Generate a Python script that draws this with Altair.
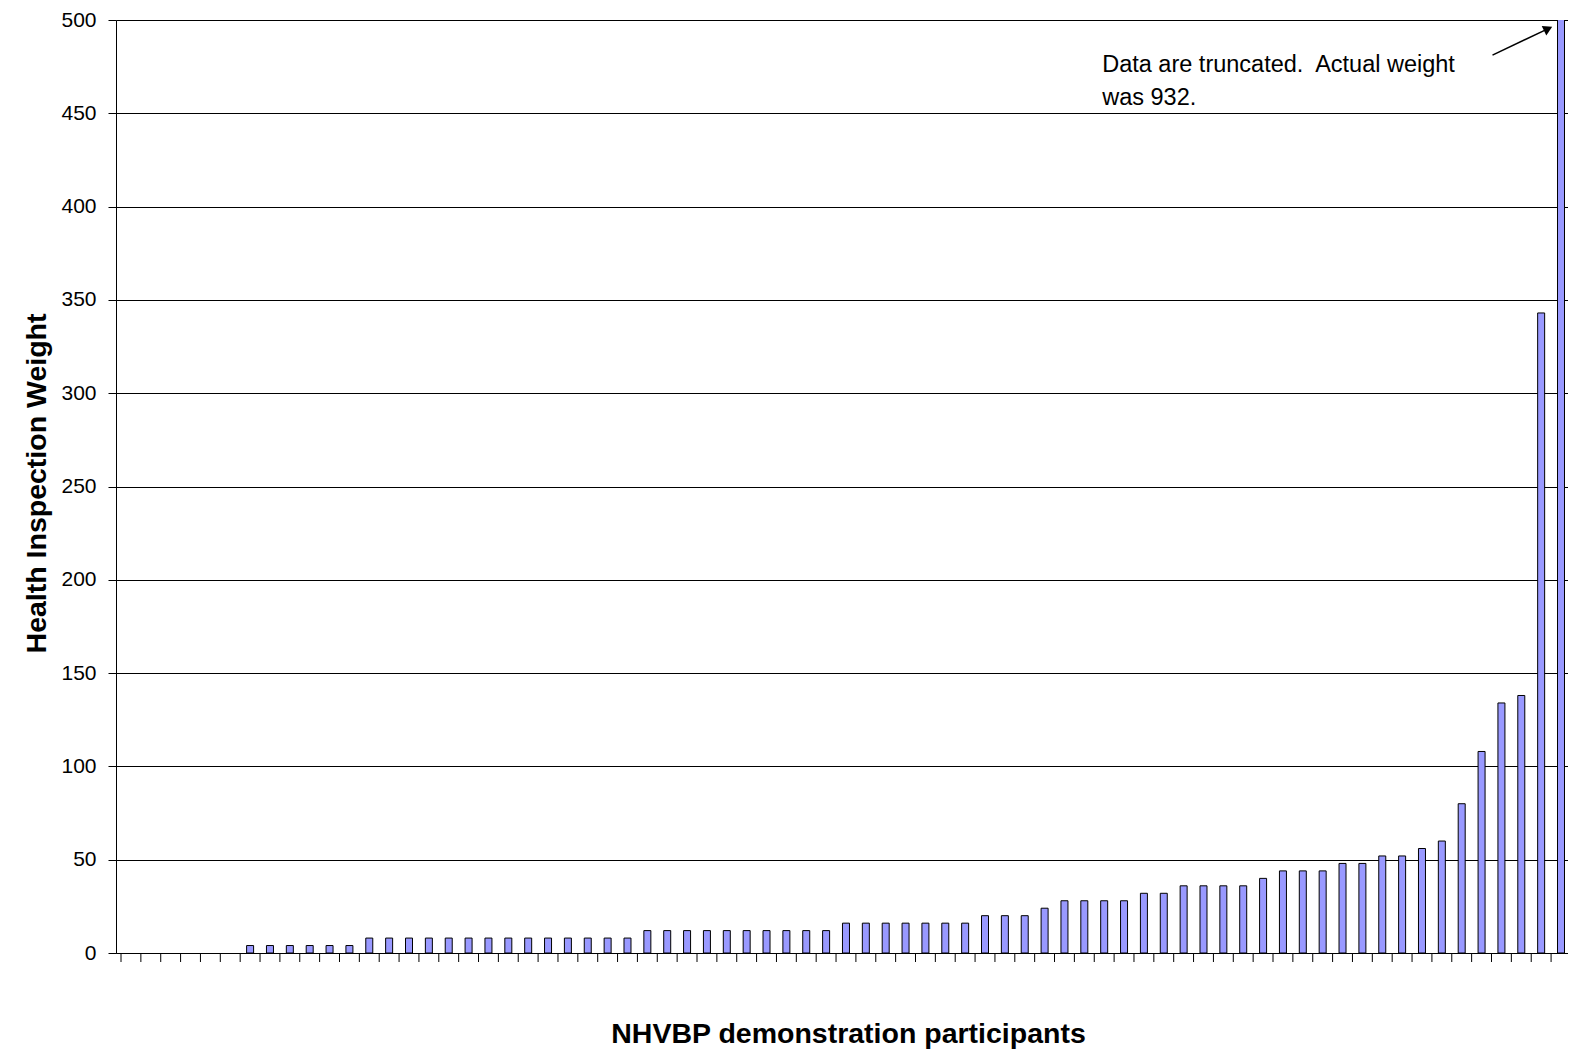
import altair as alt
import pandas as pd

# Health inspection weight per NHVBP demonstration participant (sorted)
weights = [
    0, 0, 0, 0, 0, 0,
    4, 4, 4, 4, 4, 4,
    8, 8, 8, 8, 8, 8, 8, 8, 8, 8, 8, 8, 8, 8,
    12, 12, 12, 12, 12, 12, 12, 12, 12, 12,
    16, 16, 16, 16, 16, 16, 16,
    20, 20, 20,
    24,
    28, 28, 28, 28,
    32, 32,
    36, 36, 36, 36,
    40,
    44, 44, 44,
    48, 48,
    52, 52,
    56,
    60,
    80,
    108,
    134,
    138,
    343,
    932,
]
participants = list(range(1, len(weights) + 1))
y_ticks = [0, 50, 100, 150, 200, 250, 300, 350, 400, 450, 500]
x_ticks = list(range(0, len(weights)))

note_lines = ["Data are truncated.\u00a0 Actual weight", "was 932."]
note_anchor = {"x": [49.4], "y": [472]}
arrow_x = [69.05, 71.7]
arrow_y = [481.2, 494.6]
head = {"x": [71.85], "y": [495.3]}

FONT = "Liberation Sans"
W, H = 1452, 933
X_MAX = 72.6  # the original chart is cut off at the right edge

df = pd.DataFrame({"participant": participants, "weight": weights})

xscale = alt.Scale(domain=[0, X_MAX], nice=False, zero=False)
yscale = alt.Scale(domain=[0, 500], nice=False)

bars = alt.Chart(df).transform_filter(
    "datum.weight > 0"
).transform_calculate(
    pos="datum.participant - 0.5"
).mark_bar(
    size=7, fill="#9999ff", stroke="black", strokeWidth=1, clip=True
).encode(
    x=alt.X("pos:Q", scale=xscale, axis=alt.Axis(
        labels=False, grid=False, ticks=False,
        domainColor="black", domainWidth=1,
        title="NHVBP demonstration participants",
        titleFont=FONT, titleFontSize=28.5, titleFontWeight="bold",
        titleColor="black", titleX=732, titleY=89,
        titleBaseline="alphabetic", titleAlign="center",
    )),
    y=alt.Y("weight:Q", scale=yscale, axis=alt.Axis(
        values=y_ticks, grid=True, gridColor="black", gridWidth=1,
        tickSize=8, tickColor="black", domainColor="black",
        labelFont=FONT, labelFontSize=21, labelColor="black",
        labelPadding=12,
        title="Health Inspection Weight",
        titleFont=FONT, titleFontSize=28.5, titleFontWeight="bold",
        titleColor="black", titleX=-71, titleY=463, titleAngle=270,
        titleBaseline="alphabetic", titleAlign="center",
    )),
)

xtick_rules = alt.Chart(pd.DataFrame({"t": x_ticks})).mark_rule(
    color="black", strokeWidth=1
).encode(
    x=alt.X("t:Q", scale=xscale),
    y=alt.value(H),
    y2=alt.value(H + 9),
)

note = alt.Chart(pd.DataFrame(note_anchor)).mark_text(
    align="left", baseline="alphabetic", font=FONT, fontSize=23.5,
    lineHeight=33, color="black",
).encode(
    x=alt.X("x:Q", scale=xscale),
    y=alt.Y("y:Q", scale=yscale),
    text=alt.value(note_lines),
)

arrow = alt.Chart(pd.DataFrame({"x": arrow_x, "y": arrow_y})).mark_line(
    color="black", strokeWidth=1.5
).encode(
    x=alt.X("x:Q", scale=xscale),
    y=alt.Y("y:Q", scale=yscale),
)

arrow_head = alt.Chart(pd.DataFrame(head)).mark_point(
    shape="triangle-right", filled=True, color="black", size=110,
    angle=334, opacity=1,
).encode(
    x=alt.X("x:Q", scale=xscale),
    y=alt.Y("y:Q", scale=yscale),
)

chart = alt.layer(bars, xtick_rules, note, arrow, arrow_head).properties(
    width=W, height=H,
    autosize=alt.AutoSizeParams(type="none"),
    padding={"left": 108, "top": 12, "right": 0, "bottom": 96},
    background="white",
).configure_view(stroke=None)

chart.save("out.html", embed_options={"renderer": "svg", "actions": False})
